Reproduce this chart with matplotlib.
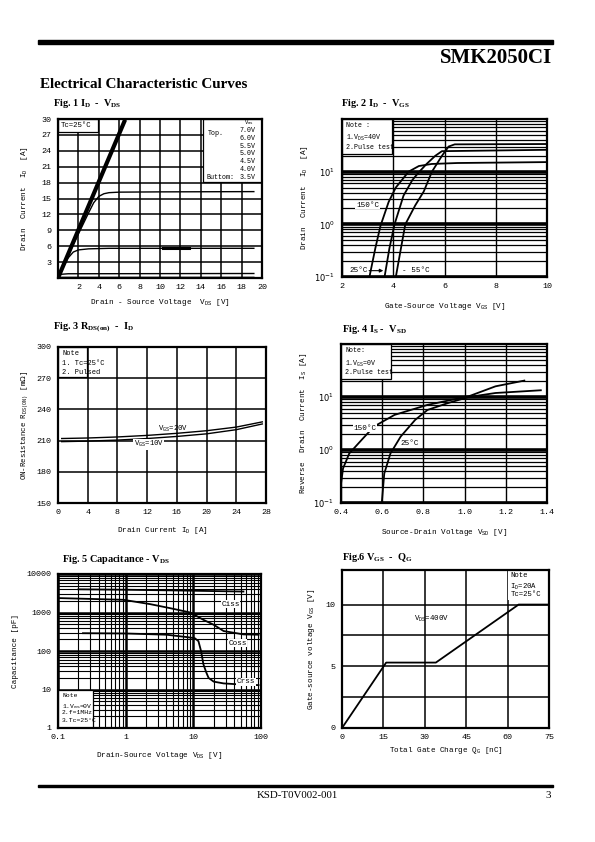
import matplotlib
matplotlib.use("Agg")
import matplotlib.pyplot as plt
from matplotlib.patches import Rectangle
from matplotlib.ticker import LogLocator, NullFormatter
import numpy as np

W, H = 595, 842
plt.rcParams['font.family'] = 'Liberation Mono'
plt.rcParams['mathtext.fontset'] = 'dejavusans'

# ---- Fig 1: ID - VDS
fig1_vds_lin = [0, 6.5]
fig1_id_lin = [0, 29.5]
fig1_vds_hi = [0, 1, 2, 3, 3.5, 4, 4.5, 5, 6, 10, 19.2]
fig1_id_hi = [0, 4.3, 8.3, 12.3, 14.2, 15.4, 15.9, 16.1, 16.2, 16.25, 16.3]
fig1_vds_mid = [0, 0.5, 1, 1.5, 2, 3, 5, 19.2]
fig1_id_mid = [0, 2.0, 3.8, 4.9, 5.3, 5.5, 5.6, 5.6]
fig1_vds_lo = [0, 0.3, 1, 19.2]
fig1_id_lo = [0, 0.7, 0.8, 0.85]
fig1_vds_bot = [0, 0.2, 19.2]
fig1_id_bot = [0, 0.12, 0.12]
fig1_vgs_steps = ['7.0V', '6.0V', '5.5V', '5.0V', '4.5V', '4.0V', '3.5V']

# ---- Fig 2: ID - VGS
fig2_v150 = [3.07, 3.3, 3.5, 3.82, 4.1, 4.6, 5.0, 5.5, 6.5, 10]
fig2_i150 = [0.1, 0.35, 0.93, 2.66, 5.0, 10, 12.8, 14.0, 14.6, 15.2]
fig2_v25 = [3.66, 3.85, 4.05, 4.4, 4.75, 5.02, 5.3, 5.64, 5.9, 10]
fig2_i25 = [0.1, 0.35, 1.0, 3.5, 7, 10, 14, 20, 24.5, 26]
fig2_vm55 = [4.1, 4.3, 4.47, 4.86, 5.19, 5.51, 5.9, 6.16, 6.4, 10]
fig2_im55 = [0.1, 0.35, 1.0, 2.3, 4.2, 10, 20, 30, 33, 33.5]

# ---- Fig 3: RDS(on) - ID
fig3_id = [0.5, 4, 8, 12, 16, 20, 24, 27.5]
fig3_r20 = [212, 212.5, 213.5, 215, 217, 219.5, 223, 228]
fig3_r10 = [209, 209.5, 210.5, 212, 214, 216.5, 220.5, 226]

# ---- Fig 4: IS - VSD
fig4_v150 = [0.4, 0.41, 0.44, 0.5, 0.56, 0.66, 0.82, 1.02, 1.15, 1.29]
fig4_i150 = [0.23, 0.45, 0.86, 1.55, 2.77, 4.6, 7.1, 10.3, 15.9, 20.4]
fig4_v25 = [0.598, 0.61, 0.64, 0.69, 0.76, 0.82, 0.92, 1.02, 1.15, 1.37]
fig4_i25 = [0.1, 0.36, 0.86, 1.8, 3.7, 5.7, 7.7, 10, 11.9, 13.4]

# ---- Fig 5: Capacitance - VDS
fig5_v_ciss = [0.2, 1, 5, 20, 55]
fig5_ciss = [4000, 3900, 3750, 3600, 3500]
fig5_v_coss = [0.1, 0.92, 2.3, 4.5, 9, 14, 20, 28, 55, 92]
fig5_coss = [2370, 2140, 1650, 1300, 1000, 650, 480, 330, 270, 265]
fig5_v_crss = [0.234, 1, 4, 8, 10.5, 11.9, 13, 14.1, 15.5, 16.8, 20, 28, 50, 92]
fig5_crss = [290, 285, 265, 230, 215, 180, 100, 45, 28, 20, 16, 14.4, 13.5, 13]

# ---- Fig 6: VGS - QG
fig6_qg = [0, 16, 34, 64, 75]
fig6_vgs = [0, 5.3, 5.3, 10, 10]


def px_axes(fig, left, top, right, bottom):
    return fig.add_axes([left / W, 1 - bottom / H, (right - left) / W, (bottom - top) / H])


def style(ax):
    for s in ax.spines.values():
        s.set_linewidth(1.6)
    ax.set_axisbelow(True)
    ax.tick_params(which='both', length=0, labelsize=6, pad=4)
    ax.tick_params(axis='y', pad=5)


def note_axes(ax, x0, y0, x1, y1, lines, fs=4.8, step=0.062):
    # note box, given in axes fraction
    ax.add_patch(Rectangle((x0, y0), x1 - x0, y1 - y0, facecolor='white',
                           edgecolor='black', lw=0.9, zorder=2, transform=ax.transAxes))
    for i, t in enumerate(lines):
        ax.text(x0 + 0.02, y1 - 0.02 - i * step, t, fontsize=fs, va='top',
                transform=ax.transAxes, zorder=4)


def title(fig, x, y, s):
    fig.text(x / W, 1 - y / H, s, family='Liberation Serif', weight='bold',
             fontsize=7.4, va='center')


fig = plt.figure(figsize=(W / 100, H / 100), dpi=100)

# page header / footer
fig.patches.append(Rectangle((38 / W, 1 - 44 / H), 515 / W, 4 / H, color='black',
                             transform=fig.transFigure, figure=fig))
fig.text(552 / W, 1 - 58 / H, 'SMK2050CI', family='Liberation Serif', weight='bold',
         fontsize=15, ha='right', va='center')
fig.text(40 / W, 1 - 84 / H, 'Electrical Characteristic Curves', family='Liberation Serif',
         weight='bold', fontsize=10.9, va='center')
fig.patches.append(Rectangle((38 / W, 1 - 787 / H), 515 / W, 1.6 / H, color='black',
                             transform=fig.transFigure, figure=fig))
fig.text(297 / W, 1 - 796 / H, 'KSD-T0V002-001', family='Liberation Serif',
         fontsize=7.8, ha='center', va='center')
fig.text(551 / W, 1 - 796 / H, '3', family='Liberation Serif', fontsize=7.8,
         ha='right', va='center')

# ---------------- Fig 1
title(fig, 53, 104, r'Fig. 1 I$_\mathregular{D}$  -  V$_\mathregular{DS}$')
ax1 = px_axes(fig, 58, 119, 262, 278)
style(ax1)
ax1.set_xlim(0, 20)
ax1.set_ylim(0, 30)
ax1.set_xticks(range(2, 21, 2))
ax1.set_yticks(range(3, 31, 3))
ax1.grid(True, color='black', lw=1.1)
ax1.plot(fig1_vds_lin, fig1_id_lin, color='black', lw=3, zorder=3)
for xs, ys in [(fig1_vds_hi, fig1_id_hi), (fig1_vds_mid, fig1_id_mid),
               (fig1_vds_lo, fig1_id_lo), (fig1_vds_bot, fig1_id_bot)]:
    ax1.plot(xs, ys, color='black', lw=1.0, zorder=3)
ax1.plot([10.3, 12.8], [5.7, 5.7], color='black', lw=2.2, zorder=3)
ax1.add_patch(Rectangle((0, 27.6), 3.9, 2.4, facecolor='white', edgecolor='black', lw=0.9, zorder=2))
ax1.text(0.3, 28.8, 'Tc=25°C', fontsize=5.3, va='center', zorder=4)
ax1.add_patch(Rectangle((14.2, 18.2), 5.8, 11.8, facecolor='white', edgecolor='black', lw=0.9, zorder=2))
ax1.text(18.7, 29.35, r'V$_\mathregular{GS}$', fontsize=4.0, ha='center', va='center', zorder=4)
for i, s in enumerate(fig1_vgs_steps):
    ax1.text(19.4, 27.75 - i * 1.45, s, fontsize=4.8, ha='right', va='center', zorder=4)
ax1.text(14.7, 27.2, 'Top.', fontsize=4.8, va='center', zorder=4)
ax1.text(14.6, 27.75 - 6 * 1.45, 'Buttom:', fontsize=4.8, va='center', zorder=4)
ax1.set_xlabel(r'Drain - Source Voltage  V$_\mathregular{DS}$ [V]', fontsize=5.5, labelpad=5)
ax1.set_ylabel(r'Drain  Current  I$_\mathregular{D}$  [A]', fontsize=5.5, labelpad=8)

# ---------------- Fig 2
title(fig, 341, 104, r'Fig. 2 I$_\mathregular{D}$  -  V$_\mathregular{GS}$')
ax2 = px_axes(fig, 342, 119, 547, 277)
style(ax2)
ax2.set_yscale('log')
ax2.set_xlim(2, 10)
ax2.set_ylim(0.1, 100)
ax2.set_xticks([2, 4, 6, 8, 10])
ax2.set_yticks([0.1, 1, 10])
ax2.set_yticklabels([r'$10^{-1}$', r'$10^{0}$', r'$10^{1}$'])
ax2.yaxis.set_minor_locator(LogLocator(base=10, subs=np.arange(2, 10)))
ax2.yaxis.set_minor_formatter(NullFormatter())
ax2.grid(True, axis='x', which='major', color='black', lw=1.0)
ax2.grid(True, axis='y', which='major', color='black', lw=2.6)
ax2.grid(True, axis='y', which='minor', color='black', lw=0.9)
for xs, ys in [(fig2_v150, fig2_i150), (fig2_v25, fig2_i25), (fig2_vm55, fig2_im55)]:
    ax2.plot(xs, ys, color='black', lw=1.3, zorder=3)
note_axes(ax2, 0, 0.78, 0.245, 1, ['Note :', r'1.V$_\mathregular{DS}$=40V', '2.Pulse test'], step=0.07)
ax2.text(2.55, 2.3, '150°C', fontsize=5.5, va='center', zorder=4,
         bbox=dict(facecolor='white', edgecolor='none', pad=0.5))
ax2.text(2.3, 0.132, '25°C', fontsize=5.5, va='center', zorder=4,
         bbox=dict(facecolor='white', edgecolor='none', pad=0.5))
ax2.annotate('', xy=(3.72, 0.132), xytext=(2.95, 0.132),
             arrowprops=dict(arrowstyle='-|>', color='black', lw=0.8, mutation_scale=5), zorder=4)
ax2.text(4.35, 0.132, '- 55°C', fontsize=5.5, va='center', zorder=4,
         bbox=dict(facecolor='white', edgecolor='none', pad=0.5))
ax2.set_xlabel(r'Gate-Source Voltage V$_\mathregular{GS}$ [V]', fontsize=5.5, labelpad=8)
ax2.set_ylabel(r'Drain  Current  I$_\mathregular{D}$  [A]', fontsize=5.5, labelpad=3)

# ---------------- Fig 3
title(fig, 53, 327, r'Fig. 3 R$_\mathregular{DS(on)}$  -  I$_\mathregular{D}$')
ax3 = px_axes(fig, 58, 347, 266, 503)
style(ax3)
ax3.set_xlim(0, 28)
ax3.set_ylim(150, 300)
ax3.set_xticks(range(0, 29, 4))
ax3.set_yticks(range(150, 301, 30))
ax3.grid(True, color='black', lw=1.1)
ax3.plot(fig3_id, fig3_r20, color='black', lw=1.0, zorder=3)
ax3.plot(fig3_id, fig3_r10, color='black', lw=1.0, zorder=3)
note_axes(ax3, 0, 0.805, 0.14, 1, ['Note', '1. Tc=25°C', '2. Pulsed'], fs=5, step=0.062)
ax3.text(13.5, 221.5, r'V$_\mathregular{GS}$=20V', fontsize=5.2, va='center', zorder=4)
ax3.text(10.2, 206.5, r'V$_\mathregular{GS}$=10V', fontsize=5.2, va='center', zorder=4,
         bbox=dict(facecolor='white', edgecolor='none', pad=0.3))
ax3.set_xlabel(r'Drain Current I$_\mathregular{D}$ [A]', fontsize=5.5, labelpad=7)
ax3.set_ylabel(r'ON-Resistance R$_\mathregular{DS(ON)}$ [m$\Omega$]', fontsize=5.3, labelpad=4)

# ---------------- Fig 4
title(fig, 342, 330, r'Fig. 4 I$_\mathregular{S}$ -  V$_\mathregular{SD}$')
ax4 = px_axes(fig, 341, 344, 547, 503)
style(ax4)
ax4.set_yscale('log')
ax4.set_xlim(0.4, 1.4)
ax4.set_ylim(0.1, 100)
ax4.set_xticks([0.4, 0.6, 0.8, 1.0, 1.2, 1.4])
ax4.set_xticklabels(['0.4', '0.6', '0.8', '1.0', '1.2', '1.4'])
ax4.set_yticks([0.1, 1, 10])
ax4.set_yticklabels([r'$10^{-1}$', r'$10^{0}$', r'$10^{1}$'])
ax4.yaxis.set_minor_locator(LogLocator(base=10, subs=np.arange(2, 10)))
ax4.yaxis.set_minor_formatter(NullFormatter())
ax4.grid(True, axis='x', which='major', color='black', lw=1.0)
ax4.grid(True, axis='y', which='major', color='black', lw=2.6)
ax4.grid(True, axis='y', which='minor', color='black', lw=0.9)
ax4.plot(fig4_v150, fig4_i150, color='black', lw=1.3, zorder=3)
ax4.plot(fig4_v25, fig4_i25, color='black', lw=1.3, zorder=3)
note_axes(ax4, 0, 0.78, 0.245, 1, ['Note:', r'1.V$_\mathregular{GS}$=0V', '2.Pulse test'], step=0.07)
ax4.text(0.46, 2.6, '150°C', fontsize=5.5, va='center', zorder=4,
         bbox=dict(facecolor='white', edgecolor='none', pad=0.4))
ax4.text(0.69, 1.34, '25°C', fontsize=5.5, va='center', zorder=4,
         bbox=dict(facecolor='white', edgecolor='none', pad=0.4))
ax4.set_xlabel(r'Source-Drain Voltage V$_\mathregular{SD}$ [V]', fontsize=5.5, labelpad=8)
ax4.set_ylabel(r'Reverse  Drain  Current  I$_\mathregular{S}$ [A]', fontsize=5.5, labelpad=3)

# ---------------- Fig 5
title(fig, 62, 559, r'Fig. 5 Capacitance - V$_\mathregular{DS}$')
ax5 = px_axes(fig, 58, 574, 261, 728)
style(ax5)
ax5.set_xscale('log')
ax5.set_yscale('log')
ax5.set_xlim(0.1, 100)
ax5.set_ylim(1, 10000)
ax5.set_xticks([0.1, 1, 10, 100])
ax5.set_xticklabels(['0.1', '1', '10', '100'])
ax5.set_yticks([1, 10, 100, 1000, 10000])
ax5.set_yticklabels(['1', '10', '100', '1000', '10000'])
for a in (ax5.xaxis, ax5.yaxis):
    a.set_minor_locator(LogLocator(base=10, subs=np.arange(2, 10)))
    a.set_minor_formatter(NullFormatter())
ax5.grid(True, which='major', color='black', lw=1.8)
ax5.grid(True, which='minor', color='black', lw=0.8)
ax5.plot(fig5_v_ciss, fig5_ciss, color='black', lw=1.3, zorder=3)
ax5.plot(fig5_v_coss, fig5_coss, color='black', lw=1.3, zorder=3)
ax5.plot(fig5_v_crss, fig5_crss, color='black', lw=1.3, zorder=3)
for x, y, s in [(26, 1650, 'Ciss'), (33, 160, 'Coss'), (44, 16, 'Crss')]:
    ax5.text(x, y, s, fontsize=5.5, va='center', zorder=4,
             bbox=dict(facecolor='white', edgecolor='none', pad=0.4))
note_axes(ax5, 0, 0, 0.17, 0.245,
          ['Note', r'1.V$_\mathregular{GS}$=0V', '2.f=1MHz', '3.Tc=25°C'], fs=4.6, step=0.054)
ax5.set_xlabel(r'Drain-Source Voltage V$_\mathregular{DS}$ [V]', fontsize=5.5, labelpad=7)
ax5.set_ylabel('Capacitance [pF]', fontsize=5.5, labelpad=5)

# ---------------- Fig 6
title(fig, 342, 558, r'Fig.6 V$_\mathregular{GS}$  -  Q$_\mathregular{G}$')
ax6 = px_axes(fig, 342, 570, 549, 728)
style(ax6)
ax6.set_xlim(0, 75)
ax6.set_ylim(0, 12.8)
ax6.set_xticks(range(0, 76, 15))
ax6.set_yticks([0, 2.5, 5, 7.5, 10])
ax6.set_yticklabels(['0', '', '5', '', '10'])
ax6.grid(True, color='black', lw=1.1)
ax6.plot(fig6_qg, fig6_vgs, color='black', lw=1.3, zorder=3)
ax6.text(26, 8.86, r'V$_\mathregular{DS}$=400V', fontsize=5.3, va='center', zorder=4)
ax6.add_patch(Rectangle((60.3, 10.4), 14.7, 2.4, facecolor='white', edgecolor='none', zorder=2))
for i, s in enumerate(['Note', r'I$_\mathregular{D}$=20A', 'Tc=25°C']):
    ax6.text(61, 12.6 - i * 0.75, s, fontsize=5.2, va='top', zorder=4)
ax6.set_xlabel(r'Total Gate Charge Q$_\mathregular{G}$ [nC]', fontsize=5.5, labelpad=3)
ax6.set_ylabel(r'Gate-source voltage V$_\mathregular{GS}$ [V]', fontsize=5.5, labelpad=6)

fig.savefig('out.png', dpi=100)
